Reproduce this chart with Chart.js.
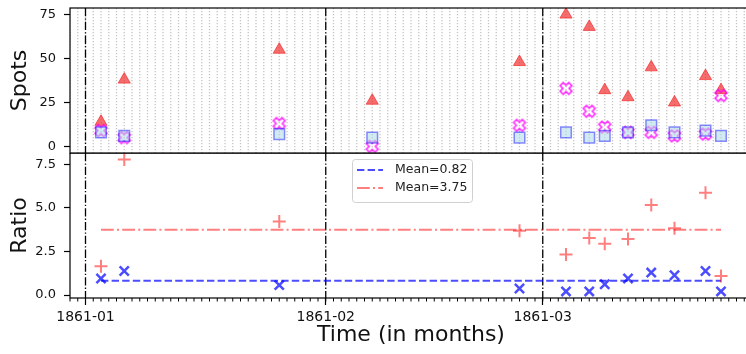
<!DOCTYPE html>
<html>
<head>
<meta charset="utf-8">
<script src="https://cdn.jsdelivr.net/npm/chart.js@4.4.1/dist/chart.umd.min.js"></script>
<style>
  html, body { margin: 0; padding: 0; background: #fff; overflow: hidden; width: 746px; height: 354px; }
  #wrap { position: relative; width: 760px; height: 354px; }
  #spots { position: absolute; left: 0; top: 0; }
  #ratio { position: absolute; left: 0; top: 153px; }
</style>
</head>
<body>
<div id="wrap">
  <canvas id="spots" width="760" height="154"></canvas>
  <canvas id="ratio" width="760" height="201"></canvas>
</div>
<script>
// Observation dates
const dates = ['1861-01-03', '1861-01-06', '1861-01-26', '1861-02-07', '1861-02-26',
               '1861-03-04', '1861-03-07', '1861-03-09', '1861-03-12', '1861-03-15',
               '1861-03-18', '1861-03-22', '1861-03-24'];

// Spot counts per observer (upper panel)
const spotsTriangle = [14, 38, 55, 26, 48, 75, 68, 32, 28, 45, 25, 40, 32];
const spotsSquare   = [8, 6, 7, 5, 5, 8, 5, 6, 8, 12, 8, 9, 6];
const spotsCross    = [9, 5, 13, 0, 12, 33, 20, 11, 8, 8, 6, 7, 29];

// Ratios (lower panel); no ratio where the reference count is zero
const ratioPlus = [1.66, 7.78, 4.22, null, 3.69, 2.33, 3.28, 2.95, 3.22, 5.17, 3.84, 5.87, 1.10];
const ratioX    = [0.95, 1.38, 0.57, null, 0.38, 0.21, 0.21, 0.62, 0.95, 1.29, 1.14, 1.38, 0.21];

// Means of the two ratio series
const meanValues = [0.82, 3.75];

// Axis ticks
const monthTicks  = ['1861-01-01', '1861-02-01', '1861-03-01'];
const monthLabels = ['1861-01', '1861-02', '1861-03'];
const spotTicks = [0, 25, 50, 75];
const spotTickLabels = ['0', '25', '50', '75'];
const ratioTicks = [0, 2.5, 5, 7.5];
const ratioTickLabels = ['0.0', '2.5', '5.0', '7.5'];

// ---- helpers ----
const DAY_MS = 86400000;
const EPOCH = Date.UTC(1861, 0, 1);
const toDay = s => (Date.parse(s + 'T00:00:00Z') - EPOCH) / DAY_MS;
const days = dates.map(toDay);
const monthDays = monthTicks.map(toDay);

function withMargin(lo, hi, frac) {
  const m = (hi - lo) * frac;
  return [lo - m, hi + m];
}
const [xMin, xMax] = withMargin(Math.min(...days), Math.max(...days), 0.05);
const spotVals = spotsTriangle.concat(spotsSquare, spotsCross);
const [ySpotMin, ySpotMax] = withMargin(Math.min(...spotVals), Math.max(...spotVals), 0.05);
const ratioVals = ratioPlus.concat(ratioX).filter(v => v !== null);
const [yRatioMin, yRatioMax] = withMargin(Math.min(...ratioVals), Math.max(...ratioVals), 0.05);

const pts = vals => vals.map((v, i) => ({ x: days[i], y: v })).filter(p => p.y !== null);
const meanLine = m => [{ x: days[0], y: m }, { x: days[days.length - 1], y: m }];

// Outlined "X" marker
function makeXMarker(size, color, lw) {
  const c = document.createElement('canvas');
  c.width = size; c.height = size;
  const g = c.getContext('2d');
  const L = 6.2, w = 2.2;
  g.translate(size / 2, size / 2);
  g.rotate(Math.PI / 4);
  const P = [[w, L], [w, w], [L, w], [L, -w], [w, -w], [w, -L], [-w, -L], [-w, -w], [-L, -w], [-L, w], [-w, w], [-w, L]];
  g.beginPath();
  P.forEach(([px, py], i) => i ? g.lineTo(px, py) : g.moveTo(px, py));
  g.closePath();
  g.strokeStyle = color;
  g.lineWidth = lw;
  g.stroke();
  return c;
}
const xMarker = makeXMarker(18, 'rgba(255,0,255,0.8)', 1.6);

Chart.defaults.font.family = "'DejaVu Sans', sans-serif";
Chart.defaults.color = '#111';

// Grid lines, month separators, frame, minor ticks and legend
const panelDecor = {
  id: 'panelDecor',
  beforeDatasetsDraw(chart, args, opts) {
    const { ctx, chartArea: a, scales: { x } } = chart;
    ctx.save();
    ctx.beginPath();
    ctx.rect(a.left, a.top, a.width, a.height);
    ctx.clip();
    if (opts.dailyGrid) {
      ctx.strokeStyle = '#c4c4c4';
      ctx.lineWidth = 1.3;
      ctx.setLineDash([1.3, 1.7]);
      for (let d = Math.ceil(x.min); d <= Math.floor(x.max); d++) {
        const px = x.getPixelForValue(d);
        ctx.beginPath();
        ctx.moveTo(px, a.top);
        ctx.lineTo(px, a.bottom);
        ctx.stroke();
      }
    }
    ctx.strokeStyle = '#000';
    ctx.lineWidth = 1.3;
    ctx.setLineDash([8.3, 2.1, 1.3, 2.1]);
    monthDays.forEach(d => {
      const px = x.getPixelForValue(d);
      ctx.beginPath();
      ctx.moveTo(px, a.top);
      ctx.lineTo(px, a.bottom);
      ctx.stroke();
    });
    ctx.restore();
  },
  afterDraw(chart, args, opts) {
    const { ctx, chartArea: a, scales: { x } } = chart;
    ctx.save();
    ctx.strokeStyle = '#000';
    ctx.lineWidth = 1.2;
    ctx.setLineDash([]);
    ctx.strokeRect(a.left, a.top, a.width, a.height);
    if (opts.minorTicks) {
      ctx.lineWidth = 1;
      for (let d = Math.ceil(x.min); d <= Math.floor(x.max); d++) {
        const px = x.getPixelForValue(d);
        ctx.beginPath();
        ctx.moveTo(px, a.bottom);
        ctx.lineTo(px, a.bottom + 3.5);
        ctx.stroke();
      }
    }
    if (opts.legend) {
      const L = opts.legend;
      const bx = a.left + 282, by = a.top + 6, bw = 120, bh = 43;
      ctx.beginPath();
      ctx.roundRect(bx + 0.5, by + 0.5, bw, bh, 3);
      ctx.fillStyle = 'rgba(255,255,255,0.8)';
      ctx.fill();
      ctx.strokeStyle = '#d0d0d0';
      ctx.lineWidth = 1;
      ctx.stroke();
      L.forEach((item, i) => {
        const ly = by + 11 + i * 18;
        ctx.beginPath();
        ctx.strokeStyle = item.color;
        ctx.lineWidth = 2;
        ctx.setLineDash(item.dash);
        ctx.moveTo(bx + 5, ly);
        ctx.lineTo(bx + 31, ly);
        ctx.stroke();
        ctx.setLineDash([]);
        ctx.fillStyle = '#222';
        ctx.font = "12.5px 'DejaVu Sans', sans-serif";
        ctx.textAlign = 'left';
        ctx.textBaseline = 'middle';
        ctx.fillText(item.text, bx + 43, ly);
      });
    }
    ctx.restore();
  }
};

function yScale(min, max, ticks, labels, title) {
  return {
    type: 'linear', position: 'left', min, max,
    afterBuildTicks: s => { s.ticks = ticks.map(v => ({ value: v })); },
    ticks: { callback: v => labels[ticks.indexOf(v)], font: { size: 13 }, color: '#111', padding: 8 },
    grid: { drawOnChartArea: false, drawTicks: true, tickLength: 6, color: '#000', tickWidth: 1.2 },
    border: { display: false },
    title: { display: true, text: title, font: { size: 22 }, color: '#111', padding: { top: 7, bottom: 0 } },
    afterFit: s => { s.width = 70; s.paddingTop = 0; s.paddingBottom = 0; }
  };
}

function xScale(show) {
  return {
    type: 'linear', position: 'bottom', min: xMin, max: xMax, display: show,
    afterBuildTicks: s => { s.ticks = monthDays.map(v => ({ value: v })); },
    ticks: {
      callback: v => monthLabels[monthDays.indexOf(v)],
      maxRotation: 0, minRotation: 0, autoSkip: false,
      font: { size: 14 }, color: '#111', padding: 4
    },
    grid: { drawOnChartArea: false, drawTicks: true, tickLength: 7, color: '#000', tickWidth: 1.2 },
    border: { display: false },
    title: { display: show, text: 'Time (in months)', font: { size: 22 }, color: '#111', padding: { top: 0, bottom: 6 } },
    afterFit: s => { if (show) s.height = 56; s.paddingLeft = 0; s.paddingRight = 0; }
  };
}

const common = {
  responsive: false,
  animation: false,
  events: [],
  devicePixelRatio: 1
};

new Chart(document.getElementById('spots'), {
  type: 'scatter',
  data: {
    datasets: [
      { data: pts(spotsSquare), pointStyle: 'rect', pointRadius: 7.5,
        backgroundColor: 'rgba(173,216,230,0.55)', borderColor: 'rgba(0,0,255,0.45)', borderWidth: 1.5 },
      { data: pts(spotsCross), pointStyle: xMarker, pointRadius: 6 },
      { data: pts(spotsTriangle), pointStyle: 'triangle', pointRadius: 7,
        backgroundColor: 'rgba(240,40,40,0.68)', borderColor: 'rgba(240,40,40,0.68)', borderWidth: 1 }
    ]
  },
  options: {
    ...common,
    layout: { autoPadding: false, padding: { top: 8, right: 8, bottom: 1, left: 0 } },
    plugins: { legend: { display: false }, tooltip: { enabled: false },
               panelDecor: { dailyGrid: true } },
    scales: {
      x: xScale(false),
      y: yScale(ySpotMin, ySpotMax, spotTicks, spotTickLabels, 'Spots')
    }
  },
  plugins: [panelDecor]
});

new Chart(document.getElementById('ratio'), {
  type: 'scatter',
  data: {
    datasets: [
      { data: pts(ratioX), pointStyle: 'crossRot', pointRadius: 6.5,
        borderColor: 'rgba(0,0,255,0.7)', borderWidth: 2.5 },
      { data: pts(ratioPlus), pointStyle: 'cross', pointRadius: 6.5,
        borderColor: 'rgba(255,0,0,0.5)', borderWidth: 2 },
      { type: 'line', data: meanLine(meanValues[0]), borderColor: 'rgba(0,0,255,0.7)',
        borderWidth: 2, borderDash: [7.4, 3.2], pointRadius: 0, fill: false },
      { type: 'line', data: meanLine(meanValues[1]), borderColor: 'rgba(255,0,0,0.5)',
        borderWidth: 2, borderDash: [12.8, 3.2, 2, 3.2], pointRadius: 0, fill: false }
    ]
  },
  options: {
    ...common,
    layout: { autoPadding: false, padding: { top: 0, right: 8, bottom: 0, left: 0 } },
    plugins: {
      legend: { display: false }, tooltip: { enabled: false },
      panelDecor: {
        minorTicks: true,
        legend: [
          { text: 'Mean=' + meanValues[0].toFixed(2), color: 'rgba(0,0,255,0.7)', dash: [7.4, 3.2] },
          { text: 'Mean=' + meanValues[1].toFixed(2), color: 'rgba(255,0,0,0.5)', dash: [12.8, 3.2, 2, 3.2] }
        ]
      }
    },
    scales: {
      x: xScale(true),
      y: yScale(yRatioMin, yRatioMax, ratioTicks, ratioTickLabels, 'Ratio')
    }
  },
  plugins: [panelDecor]
});
</script>
</body>
</html>
